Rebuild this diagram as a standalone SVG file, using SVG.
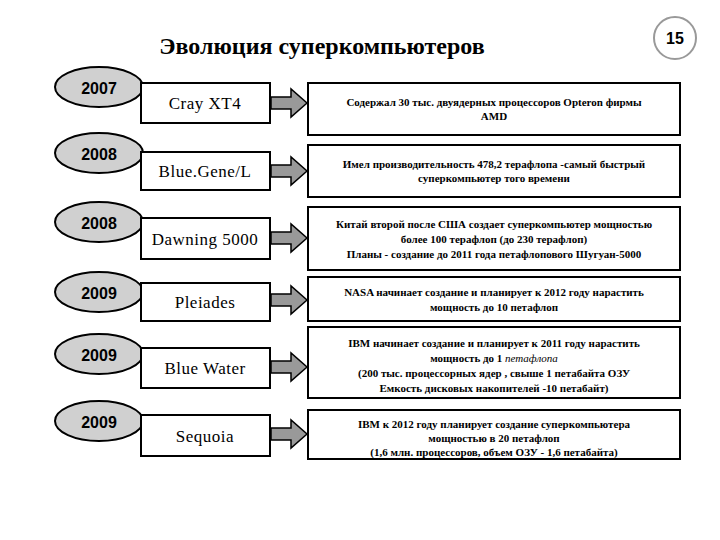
<svg xmlns="http://www.w3.org/2000/svg" width="720" height="540" viewBox="0 0 720 540">
<style>
.e{fill:#d0d0d0;stroke:#000;stroke-width:2}
.r{fill:#fff;stroke:#000;stroke-width:2}
.y{font-family:"Liberation Sans",Arial,sans-serif;font-weight:bold;font-size:16px;text-anchor:middle}
.n{font-family:"Liberation Serif","Times New Roman",serif;font-size:17px;text-anchor:middle;letter-spacing:0.5px}
.d{font-family:"Liberation Serif","Times New Roman",serif;font-weight:bold;font-size:11px;text-anchor:middle}
.a{fill:#999;stroke:#000;stroke-width:1.5}
</style>
<defs>
<path id="arr" class="a" d="M0,-6 H20 V-14 L36,0 L20,14 V6 H0 Z"/>
</defs>
<text x="322" y="54" font-family="Liberation Serif,'Times New Roman',serif" font-weight="bold" font-size="24" text-anchor="middle">Эволюция суперкомпьютеров</text>
<g id="page"><circle cx="675" cy="38" r="21" fill="#fff" stroke="#999" stroke-width="2"/><text x="675" y="44" class="y">15</text></g>
<g id="connectors">
<use href="#arr" x="271" y="103"/>
<use href="#arr" x="271" y="171"/>
<use href="#arr" x="271" y="238"/>
<use href="#arr" x="271" y="300"/>
<use href="#arr" x="271" y="367"/>
<use href="#arr" x="271" y="434"/>
</g>
<g id="row1"><ellipse class="e" cx="99" cy="87" rx="44" ry="20"/><text class="y" x="99" y="94">2007</text>
<rect class="r" x="141" y="83" width="129" height="40"/><text class="n" x="205" y="109">Cray XT4</text>
<rect class="r" x="308" y="83" width="372" height="52"/><text class="d" x="494" y="106">Содержал 30  тыс. двуядерных процессоров Opteron фирмы</text><text class="d" x="494" y="120">AMD</text></g>
<g id="row2"><ellipse class="e" cx="99" cy="153" rx="44" ry="20"/><text class="y" x="99" y="160">2008</text>
<rect class="r" x="141" y="152" width="129" height="38"/><text class="n" x="205" y="177">Blue.Gene/L</text>
<rect class="r" x="308" y="145" width="372" height="52"/><text class="d" x="494" y="168">Имел производительность 478,2 терафлопа -самый быстрый</text><text class="d" x="494" y="182">суперкомпьютер того времени</text></g>
<g id="row3"><ellipse class="e" cx="99" cy="222" rx="44" ry="20"/><text class="y" x="99" y="229">2008</text>
<rect class="r" x="141" y="218" width="129" height="41"/><text class="n" x="205" y="245">Dawning 5000</text>
<rect class="r" x="308" y="207" width="372" height="63"/><text class="d" x="494" y="228">Китай второй после США создает суперкомпьютер мощностью</text><text class="d" x="494" y="243">более 100 терафлоп (до 230 терафлоп)</text><text class="d" x="494" y="258">Планы - создание до 2011 года  петафлопового Шугуан-5000</text></g>
<g id="row4"><ellipse class="e" cx="99" cy="292" rx="44" ry="20"/><text class="y" x="99" y="299">2009</text>
<rect class="r" x="141" y="283" width="129" height="38"/><text class="n" x="205" y="308">Pleiades</text>
<rect class="r" x="308" y="277" width="372" height="44"/><text class="d" x="494" y="296">NASA  начинает создание и планирует к 2012 году нарастить</text><text class="d" x="494" y="311">мощность до 10 петафлоп</text></g>
<g id="row5"><ellipse class="e" cx="99" cy="354" rx="44" ry="20"/><text class="y" x="99" y="361">2009</text>
<rect class="r" x="141" y="348" width="129" height="40"/><text class="n" x="205" y="374">Blue Water</text>
<rect class="r" x="308" y="327" width="372" height="71"/><text class="d" x="494" y="347">IBM начинает создание и планирует к 2011 году нарастить</text><text class="d" x="494" y="362">мощность до 1 <tspan font-style="italic" font-weight="normal">петафлопа</tspan></text><text class="d" x="494" y="377">(200 тыс. процессорных ядер , свыше 1 петабайта ОЗУ</text><text class="d" x="494" y="392">Емкость дисковых накопителей -10 петабайт)</text></g>
<g id="row6"><ellipse class="e" cx="99" cy="421" rx="44" ry="20"/><text class="y" x="99" y="428">2009</text>
<rect class="r" x="141" y="415" width="129" height="41"/><text class="n" x="205" y="442">Sequoia</text>
<rect class="r" x="308" y="410" width="372" height="49"/><text class="d" x="494" y="428">IBM  к 2012 году планирует создание  суперкомпьютера</text><text class="d" x="494" y="442">мощностью  в 20 петафлоп</text><text class="d" x="494" y="456">(1,6 млн. процессоров, объем ОЗУ - 1,6 петабайта)</text></g>
</svg>
